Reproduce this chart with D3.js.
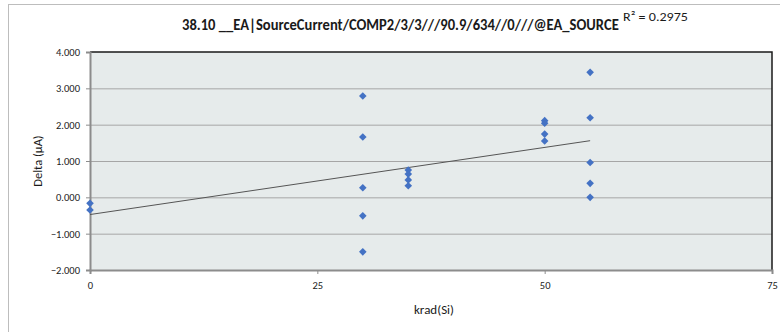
<!DOCTYPE html>
<html><head><meta charset="utf-8">
<script src="https://cdn.jsdelivr.net/npm/d3@7"></script>
<style>body{margin:0;background:#fff;}svg{display:block;}</style>
</head><body>
<svg id="c" width="780" height="332"></svg>
<script>
const titleText = "38.10 __EA|SourceCurrent/COMP2/3/3///90.9/634//0///@EA_SOURCE";
const r2Text = "R² = 0.2975";
const xLabel = "krad(Si)";
const yLabel = "Delta (µA)";
const xTicks = [0, 25, 50, 75];
const yTicks = [-2, -1, 0, 1, 2, 3, 4];
const doseX = [0, 0, 30, 30, 30, 30, 30, 35, 35, 35, 35, 50, 50, 50, 50, 55, 55, 55, 55, 55];
const deltaY = [-0.165, -0.35, 2.79, 1.66, 0.265, -0.51, -1.50, 0.75, 0.64, 0.48, 0.32, 2.11, 2.04, 1.74, 1.55, 3.44, 2.19, 0.96, 0.385, 0.0];

const svg = d3.select("#c");
const L = 90, R = 772, T = 52, B = 270;
const x = d3.scaleLinear().domain([0, 75]).range([L, R]);
const y = d3.scaleLinear().domain([-2, 4]).range([B, T]);
const font = "Calibri, Carlito, 'DejaVu Sans Condensed', 'Liberation Sans Narrow', sans-serif";

// outer chart border
svg.append("rect").attr("x", 8.5).attr("y", 4.5).attr("width", 800).attr("height", 400)
  .attr("fill", "none").attr("stroke", "#bdbdbd").attr("stroke-width", 1);

// plot area
svg.append("rect").attr("x", L).attr("y", T).attr("width", R - L).attr("height", B - T)
  .attr("fill", "#e6ebeb");

// gridlines
svg.append("g").selectAll("line").data(yTicks.filter(d => d > -2 && d < 4)).join("line")
  .attr("x1", L).attr("x2", R).attr("y1", d => y(d) + 0.5).attr("y2", d => y(d) + 0.5)
  .attr("stroke", "#a6a6a6").attr("stroke-width", 1);

// top and right borders
svg.append("path").attr("d", `M${L},${T} H${R} V${B}`).attr("fill", "none")
  .attr("stroke", "#1a1a1a").attr("stroke-width", 1.5);

// axes
const yAxis = d3.axisLeft(y).tickValues(yTicks).tickFormat(d3.format(".3f")).tickSize(4).tickPadding(6);
const gy = svg.append("g").attr("transform", `translate(${L},0)`).call(yAxis);
const xAxis = d3.axisBottom(x).tickValues(xTicks).tickFormat(d3.format("d")).tickSize(4).tickPadding(8);
const gx = svg.append("g").attr("transform", `translate(0,${B})`).call(xAxis);
[gx, gy].forEach(g => {
  g.select(".domain").attr("stroke", "#8c8c8c").attr("stroke-width", 2);
  g.selectAll(".tick line").attr("stroke", "#8c8c8c");
  g.selectAll(".tick text").attr("fill", "#222").style("font-family", font).style("font-size", "10.5px");
});

// trendline via least squares
const n = doseX.length;
const mx = d3.mean(doseX), my = d3.mean(deltaY);
let sxy = 0, sxx = 0;
for (let i = 0; i < n; i++) { sxy += (doseX[i] - mx) * (deltaY[i] - my); sxx += (doseX[i] - mx) ** 2; }
const slope = sxy / sxx, icpt = my - slope * mx;
const xMin = d3.min(doseX), xMax = d3.max(doseX);
svg.append("line").attr("x1", x(xMin)).attr("y1", y(icpt + slope * xMin))
  .attr("x2", x(xMax)).attr("y2", y(icpt + slope * xMax))
  .attr("stroke", "#555").attr("stroke-width", 1);

// markers
const dia = "M0,-3.8L3.8,0L0,3.8L-3.8,0Z";
svg.append("g").selectAll("path").data(doseX.map((d, i) => [d, deltaY[i]])).join("path")
  .attr("d", dia).attr("transform", d => `translate(${x(d[0])},${y(d[1])})`)
  .attr("fill", "#4472c4");

// fitted text helper: scale horizontally to a target width
function fitText(tx, ty, w, size, weight, str) {
  const t = svg.append("text").attr("x", 0).attr("y", 0).attr("fill", "#1a1a1a")
    .style("font-family", font).style("font-size", size + "px").style("font-weight", weight).text(str);
  const nat = t.node().getComputedTextLength();
  const sx = Math.min(1.2, w / nat);
  t.attr("transform", `translate(${tx},${ty}) scale(${sx},1)`);
  return t;
}
fitText(182, 30, 437, 16, "bold", titleText);
fitText(623, 21, 65, 13, "normal", r2Text);

// axis labels
svg.append("text").attr("x", (L + R) / 2 + 3).attr("y", 314).attr("text-anchor", "middle").attr("fill", "#1a1a1a")
  .style("font-family", font).style("font-size", "13px").text(xLabel);
svg.append("text").attr("transform", "translate(42,161) rotate(-90)").attr("text-anchor", "middle").attr("fill", "#1a1a1a")
  .style("font-family", font).style("font-size", "12.5px").text(yLabel);
</script>
</body></html>
